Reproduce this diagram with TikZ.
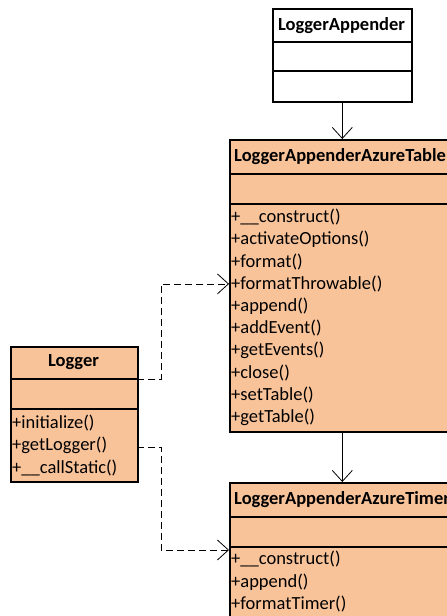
\documentclass[tikz,border=0pt]{standalone}
\usepackage{fontspec}
\setmainfont{Carlito}
\usetikzlibrary{arrows.meta}
\definecolor{classfill}{HTML}{F9C39A}
\tikzset{
  umlbox/.style={draw=black, line width=1.6pt, anchor=north west, inner sep=0pt},
  divider/.style={draw=black, line width=1.6pt},
  clsname/.style={font=\fontsize{18.5}{22}\selectfont\bfseries, inner sep=0pt},
  member/.style={font=\fontsize{18.5}{22}\selectfont, anchor=west, inner sep=0pt},
  assoc/.style={draw=black, line width=0.8pt, -{Straight Barb[length=11pt,width=20pt,line width=0.8pt]}},
  dep/.style={assoc, dash pattern=on 7pt off 4pt}
}
\begin{document}
\begin{tikzpicture}[x=1pt,y=-1pt]
\useasboundingbox (0,0) rectangle (447,616);
\clip (0,0) rectangle (447,616);
% LoggerAppender
\node[umlbox, fill=white, minimum width=139pt, minimum height=93pt] (la) at (272,8) {};
\draw[divider] (272,42) -- (411,42);
\draw[divider] (272,71) -- (411,71);
\node[clsname] (laName) at (341.5,25.5) {LoggerAppender};
% LoggerAppenderAzureTable
\node[umlbox, fill=classfill, minimum width=260pt, minimum height=292pt] (tbl) at (229,139) {};
\draw[divider] (229,174) -- (489,174);
\draw[divider] (229,204) -- (489,204);
\node[clsname, anchor=west] (tblName) at (234,157) {LoggerAppenderAzureTable};
\node[member] (t1) at (231,217.0) {+\_\_construct()};
\node[member] (t2) at (231,239.3) {+activateOptions()};
\node[member] (t3) at (231,261.6) {+format()};
\node[member] (t4) at (231,283.9) {+formatThrowable()};
\node[member] (t5) at (231,306.2) {+append()};
\node[member] (t6) at (231,328.5) {+addEvent()};
\node[member] (t7) at (231,350.8) {+getEvents()};
\node[member] (t8) at (231,373.1) {+close()};
\node[member] (t9) at (231,395.4) {+setTable()};
\node[member] (t10) at (231,417.7) {+getTable()};
% LoggerAppenderAzureTimer
\node[umlbox, fill=classfill, minimum width=260pt, minimum height=200pt] (tmr) at (229,482) {};
\draw[divider] (229,517) -- (489,517);
\draw[divider] (229,547) -- (489,547);
\node[clsname, anchor=west] (tmrName) at (234,500) {LoggerAppenderAzureTimer};
\node[member] (r1) at (231,559.5) {+\_\_construct()};
\node[member] (r2) at (231,581.8) {+append()};
\node[member] (r3) at (231,604.1) {+formatTimer()};
% Logger
\node[umlbox, fill=classfill, minimum width=127pt, minimum height=135pt] (lg) at (10,346) {};
\draw[divider] (10,379) -- (137,379);
\draw[divider] (10,409) -- (137,409);
\node[clsname] (lgName) at (73.5,362) {Logger};
\node[member] (g1) at (12,423) {+initialize()};
\node[member] (g2) at (12,445.5) {+getLogger()};
\node[member] (g3) at (12,468) {+\_\_callStatic()};
% connector end points
\coordinate (lgA) at (137,379);
\coordinate (lgB) at (137,447);
\coordinate (tmrIn) at (229,550);
% connectors
\draw[assoc] (la.south) -- (la.south |- tbl.north);
\draw[assoc] (la.south |- tbl.south) -- (la.south |- tmr.north);
\draw[dep] (lgA) -- (161,379) |- (tbl.west |- t4.west);
\draw[dep] (lgB) -- (161,447) |- (tmrIn);
\end{tikzpicture}
\end{document}
